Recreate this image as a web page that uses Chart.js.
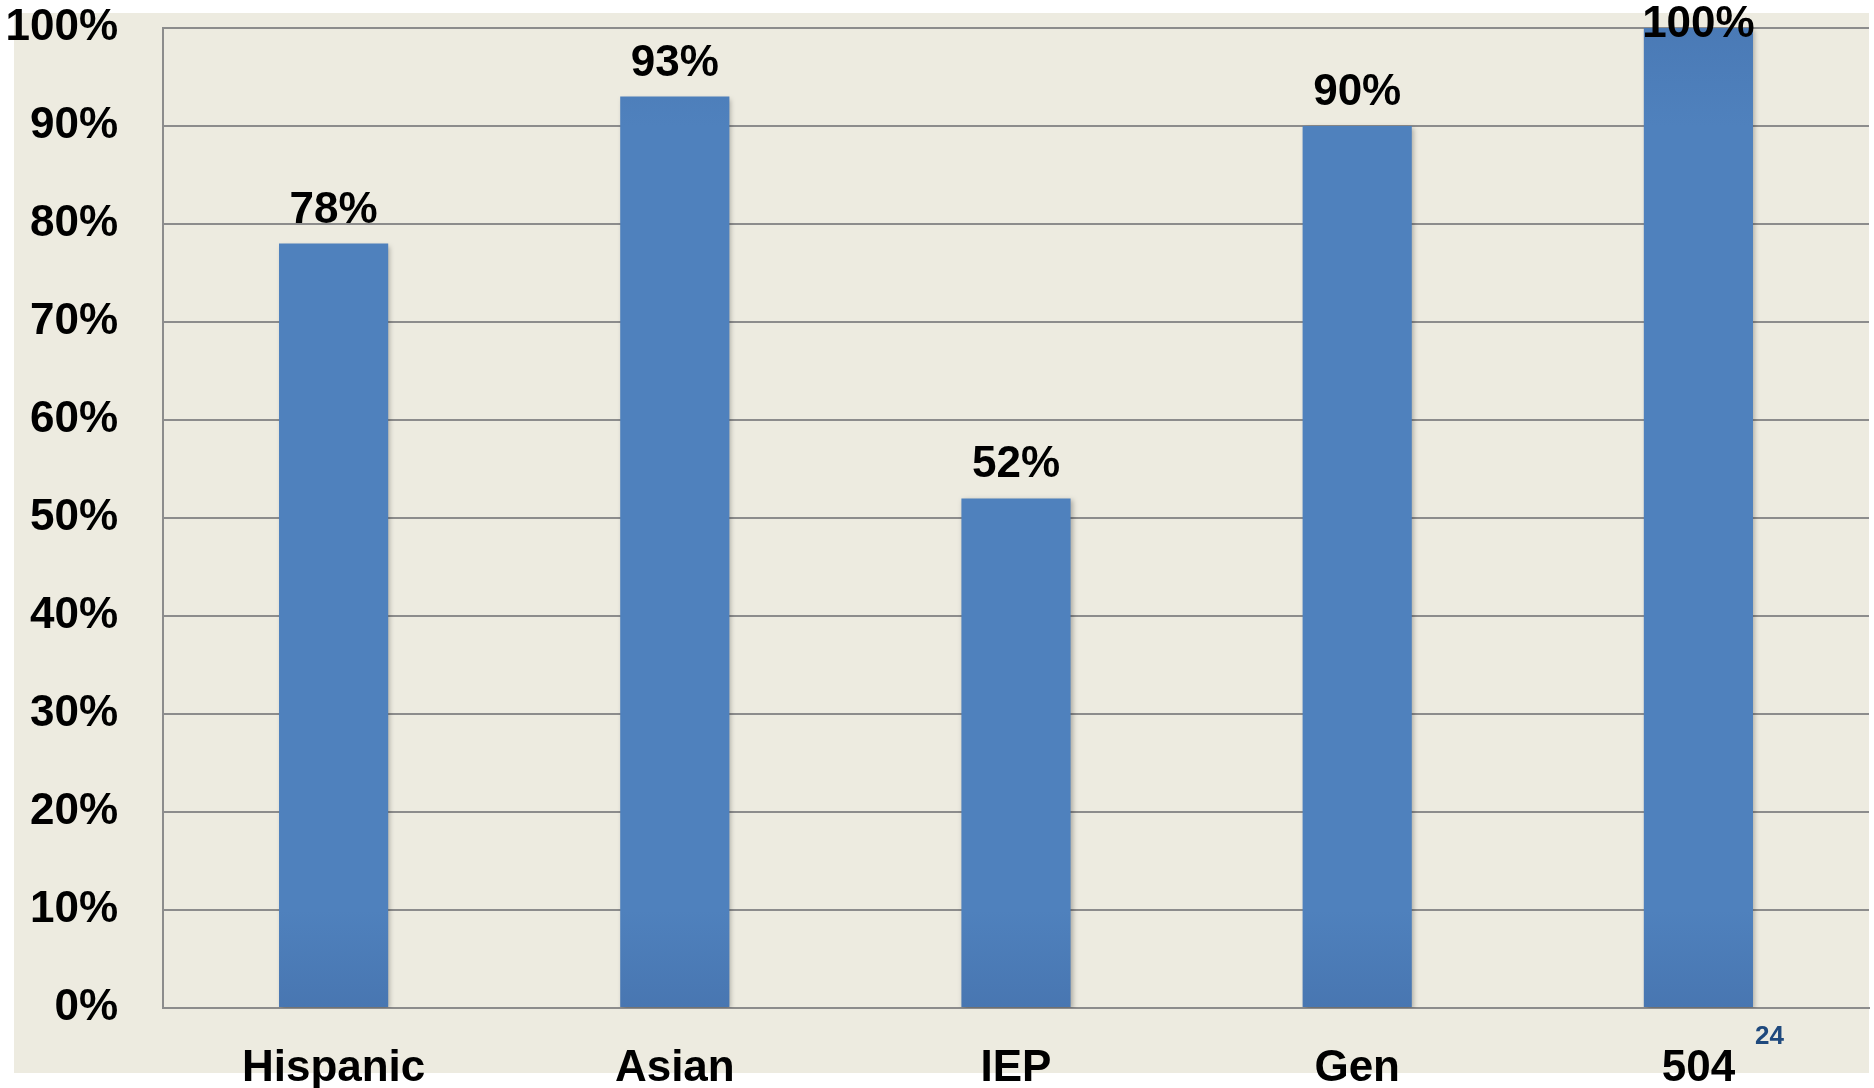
<!DOCTYPE html>
<html>
<head>
<meta charset="utf-8">
<script src="https://cdn.jsdelivr.net/npm/chart.js@4"></script>
<style>
  html, body { margin: 0; padding: 0; background: #ffffff; }
  #wrap { width: 1874px; height: 1088px; }
</style>
</head>
<body>
<div id="wrap"><canvas id="rateChart" width="1874" height="1088"></canvas></div>
<script>
// data
const groups = ['Hispanic', 'Asian', 'IEP', 'Gen', '504'];
const rates = [78, 93, 52, 90, 100];
const yTicks = [0, 10, 20, 30, 40, 50, 60, 70, 80, 90, 100];
const pageNumber = '24';

const labelFont = { family: "'Liberation Sans', Arial, sans-serif", size: 44, weight: 'bold' };

// beige panel behind the plot + small slide number
const panelPlugin = {
    id: 'panel',
    beforeDraw(chart) {
        const ctx = chart.ctx;
        ctx.save();
        ctx.fillStyle = '#EDEBE0';
        ctx.fillRect(14, 13, 1855, 1060);
        ctx.restore();
    },
    afterDraw(chart) {
        const ctx = chart.ctx;
        ctx.save();
        ctx.fillStyle = '#1F497D';
        ctx.font = "bold 26px 'Liberation Sans', Arial, sans-serif";
        ctx.textAlign = 'left';
        ctx.textBaseline = 'alphabetic';
        ctx.fillText(pageNumber, 1755, 1044);
        ctx.restore();
    }
};

// soft shadow under the bars
const shadowPlugin = {
    id: 'barShadow',
    beforeDatasetDraw(chart) {
        const ctx = chart.ctx;
        ctx.save();
        ctx.shadowColor = 'rgba(0,0,0,0.28)';
        ctx.shadowBlur = 5;
        ctx.shadowOffsetX = 2;
        ctx.shadowOffsetY = 2;
    },
    afterDatasetDraw(chart) {
        chart.ctx.restore();
    }
};

// value labels above each bar
const valueLabels = {
    id: 'valueLabels',
    afterDatasetsDraw(chart) {
        const ctx = chart.ctx;
        const meta = chart.getDatasetMeta(0);
        ctx.save();
        ctx.fillStyle = '#000000';
        ctx.font = `${labelFont.weight} ${labelFont.size}px ${labelFont.family}`;
        ctx.textAlign = 'center';
        ctx.textBaseline = 'alphabetic';
        meta.data.forEach((bar, i) => {
            let y = bar.y - 21;
            if (y < 37) y = 37;
            ctx.fillText(rates[i] + '%', bar.x, y);
        });
        ctx.restore();
    }
};

const ctx = document.getElementById('rateChart').getContext('2d');

new Chart(ctx, {
    type: 'bar',
    data: {
        labels: groups,
        datasets: [{
            data: rates,
            backgroundColor: (c) => {
                const area = c.chart.chartArea;
                if (!area) return '#4F81BD';
                const g = c.chart.ctx.createLinearGradient(0, area.top, 0, area.bottom);
                g.addColorStop(0, '#4A7AB6');
                g.addColorStop(0.1, '#4F81BD');
                g.addColorStop(0.9, '#4F81BD');
                g.addColorStop(1, '#4876B1');
                return g;
            },
            borderWidth: 0,
            barPercentage: 0.32,
            categoryPercentage: 1
        }]
    },
    options: {
        responsive: false,
        animation: false,
        layout: {
            padding: { top: 28, right: 5, left: 0, bottom: 0 }
        },
        plugins: {
            legend: { display: false },
            tooltip: { enabled: false }
        },
        scales: {
            x: {
                grid: { display: false, drawTicks: false },
                border: { display: true, color: '#8C8C8C', width: 2 },
                ticks: {
                    font: labelFont,
                    color: '#000000',
                    padding: 34,
                    maxRotation: 0
                },
                afterFit(scale) {
                    scale.height = 80;
                    scale.paddingLeft = 0;
                    scale.paddingRight = 0;
                }
            },
            y: {
                min: 0,
                max: 100,
                afterBuildTicks(scale) {
                    scale.ticks = yTicks.map(v => ({ value: v }));
                },
                grid: { color: '#8C8C8C', lineWidth: 2, drawTicks: false },
                border: { display: true, color: '#8C8C8C', width: 2 },
                ticks: {
                    font: labelFont,
                    color: '#000000',
                    padding: 45,
                    callback: (v) => v + '%'
                },
                afterFit(scale) {
                    scale.width = 163;
                    scale.paddingTop = 0;
                    scale.paddingBottom = 0;
                }
            }
        }
    },
    plugins: [panelPlugin, shadowPlugin, valueLabels]
});
</script>
</body>
</html>
